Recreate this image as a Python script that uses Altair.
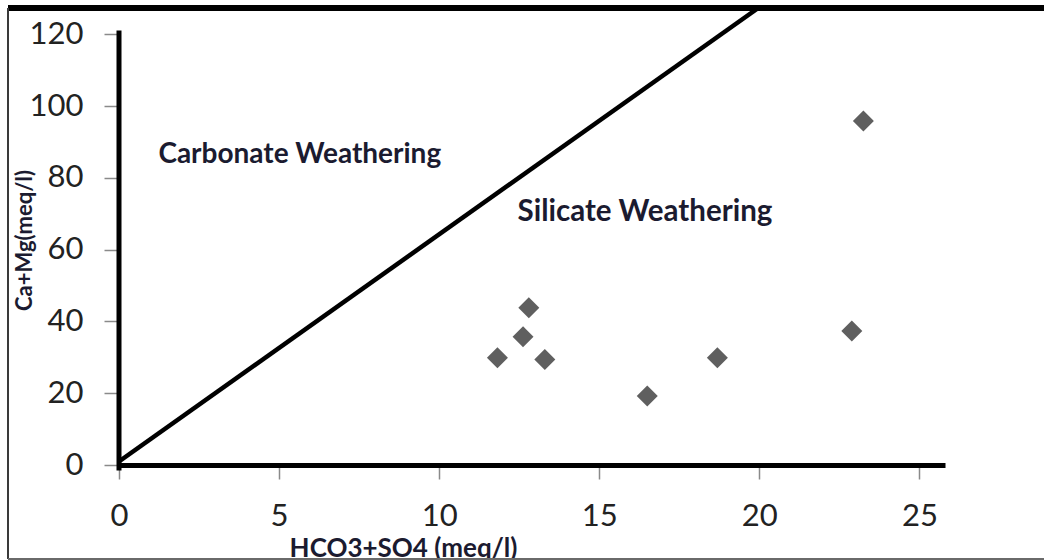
import altair as alt
import pandas as pd

# Data
hco3_so4 = [11.82, 12.62, 12.80, 13.30, 16.50, 18.69, 22.89, 23.25]
ca_mg = [29.9, 35.7, 43.8, 29.4, 19.2, 29.9, 37.3, 95.8]

line_x = [0, 20]
line_y = [1, 127.5]

x_ticks = [0, 5, 10, 15, 20, 25]
y_ticks = [0, 20, 40, 60, 80, 100, 120]

ann_text = ["Carbonate Weathering", "Silicate Weathering"]
ann_x = [1.23, 12.45]
ann_y = [86.4, 70.5]
ann_size = [28, 29.5]

pts = pd.DataFrame({"x": hco3_so4, "y": ca_mg})
ln = pd.DataFrame({"x": line_x, "y": line_y})
ann = pd.DataFrame({"t": ann_text, "x": ann_x, "y": ann_y, "s": ann_size})
yax = pd.DataFrame({"x": [0, 0], "y": [-1.5, 121]})

FONT = "Lato"
TXT = "#1b1b30"

xscale = alt.Scale(domain=[0, 25.8], nice=False, zero=False)
yscale = alt.Scale(domain=[0, 127.3], nice=False, zero=False)

xaxis = alt.Axis(
    values=x_ticks, title="HCO3+SO4 (meq/l)", grid=False,
    domain=True, domainColor="black", domainWidth=5,
    ticks=True, tickColor="#8a8a8a", tickSize=14, tickWidth=1.5,
    labelFont=FONT, labelFontSize=31, labelColor="#222222", labelPadding=22,
    labelFlush=False, labelOverlap=False,
    titleFont=FONT, titleFontSize=26, titleFontWeight="bold", titleColor=TXT,
    titleX=284, titleY=91, titleAnchor="middle", titleAlign="center",
    titleBaseline="alphabetic",
)
yaxis = alt.Axis(
    values=y_ticks, title="Ca+Mg(meq/l)", grid=False, domain=False,
    ticks=True, tickColor="#8a8a8a", tickSize=15, tickWidth=1.5,
    labelFont=FONT, labelFontSize=31, labelColor="#222222", labelPadding=21,
    labelFlush=False, labelOverlap=False,
    titleFont=FONT, titleFontSize=22, titleFontWeight="bold", titleColor=TXT,
    titleX=-88, titleY=232, titleAngle=270, titleAlign="center",
    titleBaseline="alphabetic",
)

points = alt.Chart(pts).mark_point(
    shape="diamond", filled=True, color="#5f5f5f", size=440, opacity=1
).encode(
    x=alt.X("x:Q", scale=xscale, axis=xaxis),
    y=alt.Y("y:Q", scale=yscale, axis=yaxis),
)

diag = alt.Chart(ln).mark_line(color="black", strokeWidth=4.5, clip=True).encode(
    x=alt.X("x:Q", scale=xscale), y=alt.Y("y:Q", scale=yscale)
)

yline = alt.Chart(yax).mark_line(color="black", strokeWidth=5).encode(
    x=alt.X("x:Q", scale=xscale), y=alt.Y("y:Q", scale=yscale)
)

texts = alt.Chart(ann).mark_text(
    font=FONT, fontWeight="bold", color=TXT, align="left", baseline="middle"
).encode(
    x=alt.X("x:Q", scale=xscale), y=alt.Y("y:Q", scale=yscale), text="t:N",
    size=alt.Size("s:Q", scale=None, legend=None),
)

# frame decoration (pixel space relative to plot area)
top_border = alt.Chart(pts).mark_rule(color="black", strokeWidth=6).encode(
    x=alt.value(-111), x2=alt.value(925), y=alt.value(0)
)
left_border = alt.Chart(pts).mark_rule(color="#3a3a3a", strokeWidth=2).encode(
    x=alt.value(-111), y=alt.value(0), y2=alt.value(551)
)
bottom_border = alt.Chart(pts).mark_rule(color="#6a6a6a", strokeWidth=2).encode(
    x=alt.value(-111), x2=alt.value(925), y=alt.value(551)
)

chart = alt.layer(
    diag, yline, points, texts, top_border, left_border, bottom_border
).properties(
    width=826, height=457,
    padding={"left": 119, "top": 8, "right": 99, "bottom": 95},
    autosize=alt.AutoSizeParams(type="none"),
    background="white",
).configure_view(stroke=None)

chart.save("out.html", embed_options={"renderer": "svg", "actions": False})
